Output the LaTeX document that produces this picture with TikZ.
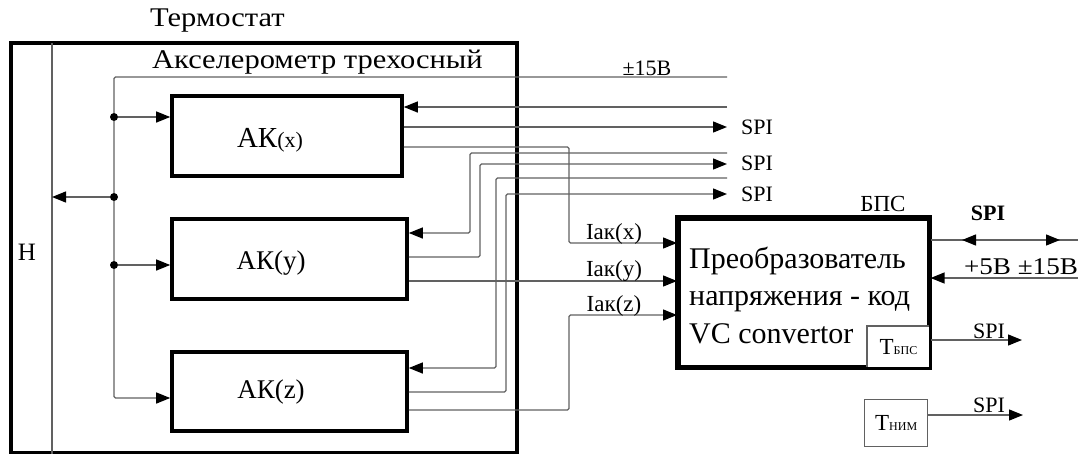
\documentclass[tikz,border=0pt]{standalone}
\usepackage{fontspec}
\setmainfont{Liberation Serif}
\newfontfamily\widefont[FakeStretch=1.13]{Liberation Serif}
\usetikzlibrary{arrows.meta}
\begin{document}
\begin{tikzpicture}[x=1pt,y=-1pt,
  wire/.style={draw=black!62,line width=1.3pt,rounded corners=1.5pt},
  arr/.style={wire,-{Triangle[length=14pt,width=11pt,color=black]}},
  thickbox/.style={draw=black,line width=3.6pt,inner sep=0pt},
  thinbox/.style={draw=black!62,line width=1.3pt,inner sep=0pt,fill=white},
  fmid/.style={font=\fontsize{22}{24}\selectfont},
  dot/.style={circle,fill=black,inner sep=0pt,minimum size=8pt},
  txt/.style={inner sep=0pt}
]
\useasboundingbox (0,0) rectangle (1078,453);
\fill[white] (0,0) rectangle (1078,453);

% Thermostat box
\node[thickbox,minimum width=506pt,minimum height=410pt] (term) at (264,248) {};
\draw[wire] (52,43) coordinate (hTop) -- (52,460) coordinate (hBot);
\node[txt,font=\fontsize{25}{27}\selectfont] (hlab) at (27,252) {Н};
\node[txt,font=\widefont\fontsize{27}{29}\selectfont,anchor=west] (tlab) at (150,21) {Термостат};
\node[txt,font=\widefont\fontsize{27}{29}\selectfont,anchor=west] (alab) at (152,62) {Акселерометр трехосный};

% AK boxes
\node[thickbox,minimum width=230pt,minimum height=80pt] (akx) at (287,136) {};
\node[thickbox,minimum width=235pt,minimum height=80pt] (aky) at (289.5,259) {};
\node[thickbox,minimum width=235pt,minimum height=79pt] (akz) at (289.5,391.5) {};
\node[txt,font=\fontsize{29}{31}\selectfont] (akxl) at (270,140) {АК{\fontsize{22}{24}\selectfont(x)}};
\node[txt,font=\fontsize{27}{29}\selectfont] (akyl) at (271,263) {АК(y)};
\node[txt,font=\fontsize{27}{29}\selectfont] (akzl) at (271,392) {АК(z)};

% power bus
\coordinate (pwr) at (727,77);
\coordinate (busTop) at (114,77);
\coordinate (busBot) at (114,398);
\node[dot] (d1) at (114,117) {};
\node[dot] (d2) at (114,197) {};
\node[dot] (d3) at (114,265) {};
\draw[wire] (pwr) -- (busTop) -- (d1) -- (d2) -- (d3);
\draw[arr] (d3) -- (busBot) -- (akz.west |- busBot);
\draw[arr] (d1) -- (akx.west |- d1);
\draw[arr] (d2) -- (hTop |- d2);
\draw[arr] (d3) -- (aky.west |- d3);
\node[txt,font=\fontsize{22}{24}\selectfont] (pwrlab) at (647,68) {±15В};

% right-end coordinates
\coordinate (xin) at (727,107);
\coordinate (xout) at (727,127);
\coordinate (yin) at (727,153);
\coordinate (yout) at (727,164);
\coordinate (zin) at (727,178);
\coordinate (zout) at (727,194);

% BPS
\node[thickbox,minimum width=250pt,minimum height=148pt,anchor=north west] (bps) at (677,217) {};
\node[thinbox,minimum width=63pt,minimum height=42pt,anchor=south east] (tbps) at (bps.south east) {};
\draw[thickbox] (bps.north west) rectangle (bps.south east);
\node[txt,font=\fontsize{23}{25}\selectfont] (bpslab) at (883,204) {БПС};
\node[txt,font=\fontsize{30}{32}\selectfont,anchor=base west] (bt1) at (689,268) {Преобразователь};
\node[txt,font=\fontsize{30}{32}\selectfont,anchor=base west] (bt2) at (689,305) {напряжения - код};
\node[txt,font=\fontsize{30}{32}\selectfont,anchor=base west] (bt3) at (689,343) {VC convertor};
\node[txt] (tbpsl) at (tbps.center) {{\fontsize{23}{25}\selectfont Т}{\fontsize{12}{14}\selectfont БПС}};
\node[thinbox,minimum width=63pt,minimum height=47pt,anchor=north west] (tnim) at (864,399) {};
\node[txt] (tniml) at (tnim.center) {{\fontsize{23}{25}\selectfont Т}{\fontsize{12}{14}\selectfont НИМ}};

% AK(x)
\draw[arr] (xin) -- (akx.east |- xin);
\draw[arr] (akx.east |- xout) -- (xout);
\draw[arr] (akx.east |- 0,147) -- (569,147) -- (569,243) -- (bps.west |- 0,243);
% AK(y)
\draw[arr] (yin) -- (470,153) -- (470,233) -- (aky.east |- 0,233);
\draw[arr] (aky.east |- 0,257) -- (480,257) -- (480,164) -- (yout);
\draw[arr] (aky.east |- 0,281) -- (bps.west |- 0,281);
% AK(z)
\draw[arr] (zin) -- (496,178) -- (496,368) -- (akz.east |- 0,368);
\draw[arr] (akz.east |- 0,392) -- (506,392) -- (506,194) -- (zout);
\draw[arr] (akz.east |- 0,410) -- (569,410) -- (569,315) -- (bps.west |- 0,315);

% labels
\node[txt,fmid,anchor=west] (s1) at (741,127) {SPI};
\node[txt,fmid,anchor=west] (s2) at (741,163) {SPI};
\node[txt,fmid,anchor=west] (s3) at (741,194) {SPI};
\node[txt,font=\fontsize{23}{25}\selectfont] (ix) at (614,234) {Iак(x)};
\node[txt,font=\fontsize{23}{25}\selectfont] (iy) at (614,271) {Iак(y)};
\node[txt,font=\fontsize{23}{25}\selectfont] (iz) at (614,306) {Iак(z)};

% right side
\coordinate (spiR) at (1078,240);
\coordinate (spiM) at (1010,240);
\coordinate (spiL) at (bps.east |- spiR);
\draw[wire] (spiL) -- (spiR);
\draw[arr] (spiM) -- (962,240);
\draw[arr] (spiM) -- (1060,240);
\node[txt,font=\fontsize{22}{24}\selectfont\bfseries] (sb) at (988,213) {SPI};
\coordinate (pR) at (1078,278);
\draw[arr] (pR) -- (bps.east |- pR);
\node[txt,font=\widefont\fontsize{24}{26}\selectfont] (plab) at (1021,267) {+5В ±15В};
\coordinate (t1R) at (1022,340);
\draw[arr] (tbps.east |- t1R) -- (t1R);
\node[txt,fmid] (s4) at (989,331) {SPI};
\coordinate (t2R) at (1023,415);
\draw[arr] (tnim.east |- t2R) -- (t2R);
\node[txt,fmid] (s5) at (989,405) {SPI};
\end{tikzpicture}
\end{document}
